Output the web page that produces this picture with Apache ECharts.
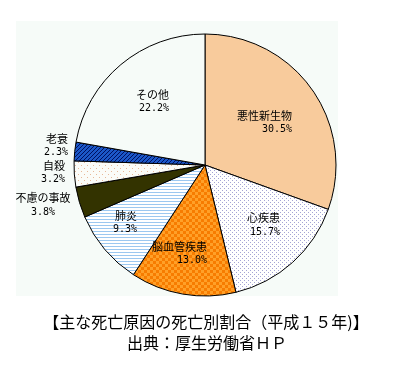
<!DOCTYPE html>
<html><head><meta charset="utf-8">
<script src="https://cdn.jsdelivr.net/npm/echarts@6/dist/echarts.min.js"></script>
<style>html,body{margin:0;padding:0;background:#fff}#c{width:395px;height:388px}</style>
</head><body><div id="c"></div>
<script>
const categories = ['悪性新生物','心疾患','脳血管疾患','肺炎','不慮の事故','自殺','老衰','その他'];
const values = [30.5, 15.7, 13.0, 9.3, 3.8, 3.2, 2.3, 22.2];
const titleLines = ['【主な死亡原因の死亡別割合（平成１５年)】', '出典：厚生労働省ＨＰ'];

function pat(w, h, draw) {
  const c = document.createElement('canvas'); c.width = w; c.height = h;
  const g = c.getContext('2d'); draw(g); return {image: c, repeat: 'repeat'};
}
const dotsBlue = pat(4, 4, g => { g.fillStyle = '#fff'; g.fillRect(0,0,4,4); g.fillStyle = '#a4a4d4'; g.fillRect(0,0,1,1); g.fillRect(2,2,1,1); });
const checker = pat(6, 6, g => { g.fillStyle = '#ffa028'; g.fillRect(0,0,6,6); g.fillStyle = '#f77c00'; g.fillRect(0,0,3,3); g.fillRect(3,3,3,3); });
const hlines = pat(4, 3, g => { g.fillStyle = '#fff'; g.fillRect(0,0,4,3); g.fillStyle = '#9cc8f0'; g.fillRect(0,0,4,1); });
const darkSolid = '#333300';
const dotsTan = pat(6, 6, g => { g.fillStyle = '#fbfcf8'; g.fillRect(0,0,6,6); g.fillStyle = '#e8b898'; g.fillRect(0,0,1,1); g.fillRect(3,3,1,1); });
const hatch = pat(4, 4, g => { g.fillStyle = '#1c58c8'; g.fillRect(0,0,4,4); g.fillStyle = '#001060'; for (let i=0;i<4;i++){ g.fillRect((3 - i + 4) % 4, i, 1, 1); } });
const fills = ['#f8cb9c', dotsBlue, checker, hlines, darkSolid, dotsTan, hatch, '#f6fbf8'];

const labelAnchors = [[292,122.5,'right'],[280,225,'right'],[207,253.5,'right'],[137,222.5,'right'],[43,205,'center'],[65,172.5,'right'],[68,145.5,'right'],[169,101.5,'right']];

const chart = echarts.init(document.getElementById('c'), null, {renderer: 'canvas'});
chart.setOption({
  animation: false,
  graphic: [
    {type: 'rect', z: -10, shape: {x: 16, y: 21, width: 322, height: 275}, style: {fill: '#f6fbf8'}},
    {type: 'text', x: 206, y: 322, style: {text: titleLines[0], font: '16px "Noto Sans CJK JP"', fill: '#000', textAlign: 'center', textVerticalAlign: 'middle'}},
    {type: 'text', x: 207, y: 343, style: {text: titleLines[1], font: '16px "Noto Sans CJK JP"', fill: '#000', textAlign: 'center', textVerticalAlign: 'middle'}}
  ],
  series: [{
    type: 'pie',
    center: [205, 165],
    radius: [0, 131],
    startAngle: 90,
    clockwise: true,
    silent: true,
    itemStyle: {borderColor: '#000', borderWidth: 1},
    label: {
      show: true, position: 'inside', color: '#000',
      fontFamily: 'Noto Sans CJK JP', fontSize: 11, lineHeight: 14,
      formatter: p => p.name + '\n{p|' + p.value.toFixed(1) + '%}',
      rich: {p: {fontFamily: 'DejaVu Sans Mono', fontSize: 10, lineHeight: 14, color: '#000'}}
    },
    labelLine: {show: false},
    labelLayout: p => { const a = labelAnchors[p.dataIndex]; return {x: a[0], y: a[1], align: a[2], verticalAlign: 'middle'}; },
    data: categories.map((n, i) => ({name: n, value: values[i], itemStyle: {color: fills[i]}}))
  }]
});
</script></body></html>
